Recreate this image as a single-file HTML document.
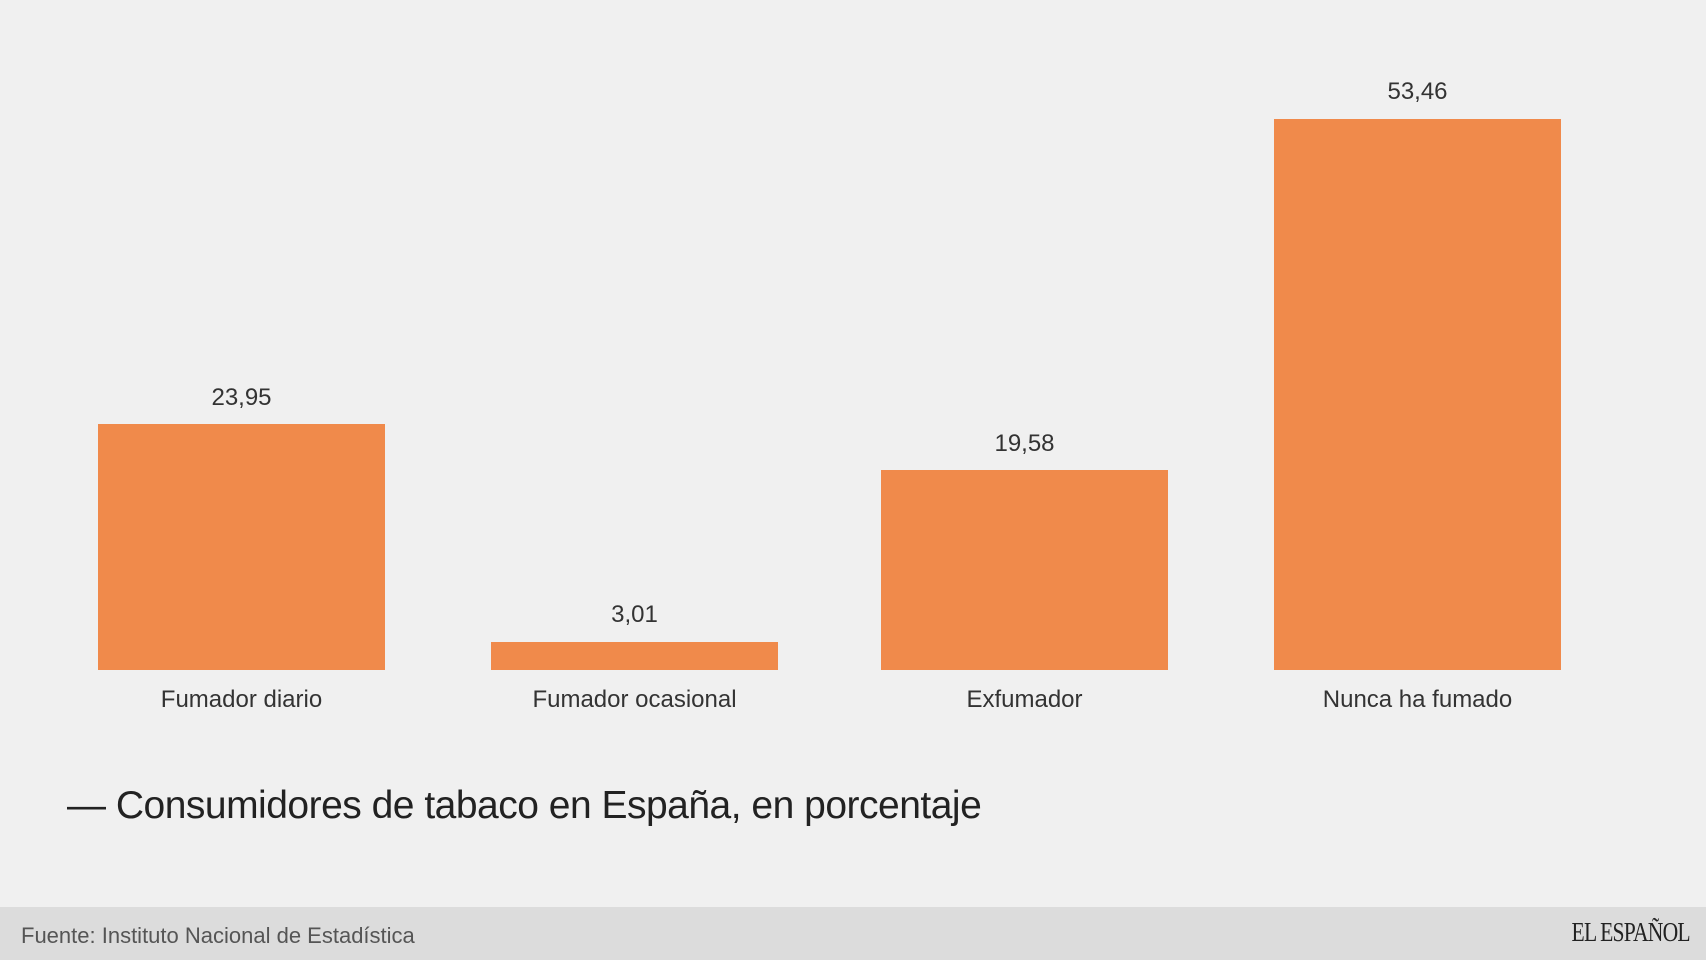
<!DOCTYPE html>
<html><head><meta charset="utf-8"><style>
body{margin:0;width:1706px;height:960px;background:#f0f0f0;position:relative;overflow:hidden;font-family:"Liberation Sans",sans-serif;}
.bar{position:absolute;background:#f08a4b;width:287px;}
.v,.c{position:absolute;width:287px;text-align:center;color:#333;font-size:24px;}
.c{top:686px;}
#t{position:absolute;left:67px;top:784px;font-size:39px;color:#222;letter-spacing:-0.5px;}
#f{position:absolute;left:0;top:907px;width:1706px;height:53px;background:#dcdcdc;}
#fs{position:absolute;left:21px;top:16px;font-size:22px;color:#555;}
#lg{position:absolute;right:16px;top:10px;font-family:"Liberation Serif",serif;font-size:27px;color:#222;letter-spacing:-1px;transform:scaleX(0.8);transform-origin:right;}
</style></head><body>
<div class="bar" style="left:98px;top:424px;height:246px"></div>
<div class="bar" style="left:491px;top:642px;height:28px"></div>
<div class="bar" style="left:881px;top:470px;height:200px"></div>
<div class="bar" style="left:1274px;top:119px;height:551px"></div>
<div class="v" style="left:98px;top:384px">23,95</div>
<div class="v" style="left:491px;top:601px">3,01</div>
<div class="v" style="left:881px;top:430px">19,58</div>
<div class="v" style="left:1274px;top:78px">53,46</div>
<div class="c" style="left:98px">Fumador diario</div>
<div class="c" style="left:491px">Fumador ocasional</div>
<div class="c" style="left:881px">Exfumador</div>
<div class="c" style="left:1274px">Nunca ha fumado</div>
<div id="t">— Consumidores de tabaco en España, en porcentaje</div>
<div id="f"><div id="fs">Fuente: Instituto Nacional de Estadística</div><div id="lg">EL ESPAÑOL</div></div>
</body></html>
